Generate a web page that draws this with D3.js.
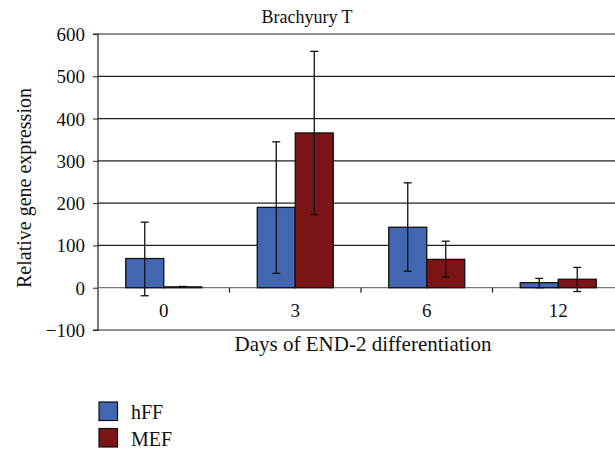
<!DOCTYPE html>
<html><head><meta charset="utf-8">
<script src="https://cdn.jsdelivr.net/npm/d3@7/dist/d3.min.js"></script>
<style>body{margin:0;background:#fff}svg{display:block}text{font-family:"Liberation Serif","DejaVu Serif",serif;fill:#111}</style>
</head><body><svg id="c" width="615" height="451"></svg>
<script>
const categories = ["0", "3", "6", "12"];
const seriesNames = ["hFF", "MEF"];
const hFF = [69, 190, 143, 12];
const MEF = [2, 366, 67, 20];
const hFFErrLow = [-19, 34, 39, 0];
const hFFErrHigh = [155, 345, 248, 22];
const MEFErrLow = [1, 173, 25, -9];
const MEFErrHigh = [3, 559, 110, 48];
const yTicks = [-100, 0, 100, 200, 300, 400, 500, 600];
const colors = ["#4366b1", "#7b1416"];

const svg = d3.select("#c");
const L = 98, R = 624, T = 34, B = 330;
const x = d3.scaleBand().domain(categories).range([L, R]);
const x1 = d3.scaleBand().domain(seriesNames).range([0, 76]);
const y = d3.scaleLinear().domain([-100, 600]).range([B, T]);

svg.append("g").selectAll("line").data(yTicks.filter(d => d > 0)).join("line")
  .attr("x1", L).attr("x2", R).attr("y1", d => y(d)).attr("y2", d => y(d))
  .attr("stroke", "#222").attr("stroke-width", 1.2);
svg.append("line").attr("x1", L).attr("x2", R).attr("y1", y(-100)).attr("y2", y(-100)).attr("stroke", "#222").attr("stroke-width", 1.2);

const ya = svg.append("g").attr("transform", `translate(${L},0)`)
  .call(d3.axisLeft(y).tickValues(yTicks).tickSize(5).tickPadding(8).tickFormat(d => d < 0 ? "\u2212" + Math.abs(d) : d));
ya.select(".domain").attr("stroke", "#222").attr("stroke-width", 1.2).attr("d", `M-5,${y(600)}H0V${y(-100)}H-5`);
ya.selectAll(".tick line").attr("stroke", "#222");
ya.selectAll("text").attr("font-size", 19).attr("fill", "#111").attr("dy", "0.34em");

const data = categories.map((c, i) => ({c, vals: [
  {s: "hFF", v: hFF[i], lo: hFFErrLow[i], hi: hFFErrHigh[i], col: colors[0]},
  {s: "MEF", v: MEF[i], lo: MEFErrLow[i], hi: MEFErrHigh[i], col: colors[1]}]}));

const g = svg.append("g");
data.forEach(d => {
  const cx = x(d.c) + x.bandwidth() / 2 - 38;
  d.vals.forEach(b => {
    const bx = cx + x1(b.s);
    g.append("rect").attr("x", bx).attr("width", x1.bandwidth())
      .attr("y", Math.min(y(b.v), y(0))).attr("height", Math.abs(y(0) - y(b.v)))
      .attr("fill", b.col).attr("stroke", "#111").attr("stroke-width", 1.3);
  });
});

svg.append("line").attr("x1", L).attr("x2", R).attr("y1", y(0)).attr("y2", y(0)).attr("stroke", "#777").attr("stroke-width", 1.3);
const xa = svg.append("g").attr("transform", `translate(0,${y(0)})`);
xa.selectAll("line").data(categories.slice(1)).join("line")
  .attr("x1", d => x(d)).attr("x2", d => x(d)).attr("y1", 0).attr("y2", 5).attr("stroke", "#222").attr("stroke-width", 1.2);
xa.selectAll("text").data(categories).join("text")
  .attr("x", d => x(d) + x.bandwidth() / 2).attr("y", 29).attr("text-anchor", "middle")
  .attr("font-size", 19).text(d => d);

data.forEach(d => {
  const cx = x(d.c) + x.bandwidth() / 2 - 38;
  d.vals.forEach(b => {
    const mx = cx + x1(b.s) + x1.bandwidth() / 2;
    const eg = g.append("g").attr("stroke", "#111").attr("stroke-width", 1.3);
    eg.append("line").attr("x1", mx).attr("x2", mx).attr("y1", y(b.hi)).attr("y2", y(b.lo));
    eg.append("line").attr("x1", mx - 4).attr("x2", mx + 4).attr("y1", y(b.hi)).attr("y2", y(b.hi));
    eg.append("line").attr("x1", mx - 4).attr("x2", mx + 4).attr("y1", y(b.lo)).attr("y2", y(b.lo));
  });
});
svg.node().appendChild(g.node());

svg.append("text").attr("x", 307).attr("y", 23).attr("text-anchor", "middle").attr("font-size", 18).text("Brachyury T");
svg.append("text").attr("x", 363).attr("y", 351).attr("text-anchor", "middle").attr("font-size", 21).text("Days of END-2 differentiation");
svg.append("text").attr("transform", `translate(31,188) rotate(-90)`).attr("text-anchor", "middle").attr("font-size", 20).text("Relative gene expression");

const lg = svg.append("g");
seriesNames.forEach((s, i) => {
  lg.append("rect").attr("x", 99).attr("y", 402 + i * 26.5).attr("width", 18.5).attr("height", 18.5)
    .attr("fill", colors[i]).attr("stroke", "#111").attr("stroke-width", 1.2);
  lg.append("text").attr("x", 131).attr("y", 419 + i * 26.5).attr("font-size", 20).text(s);
});
</script></body></html>
